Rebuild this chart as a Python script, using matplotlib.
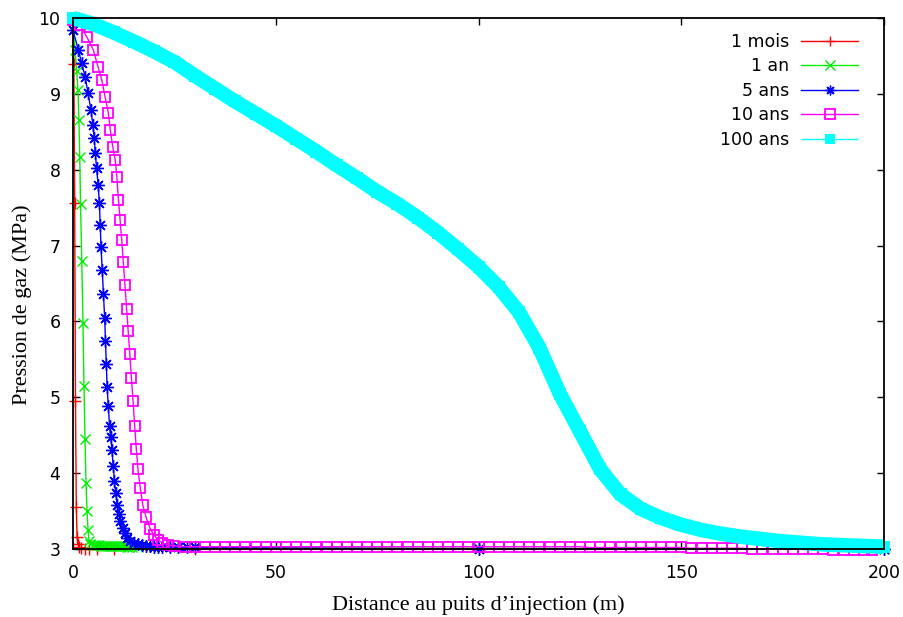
import matplotlib
matplotlib.use('Agg')
import matplotlib.pyplot as plt

# 1 mois
x_mois = [0.0, 0.2, 0.4, 0.6, 0.8, 1.0, 1.2, 1.5, 2.0, 3.0, 4.0, 6.0, 10, 30, 100, 200]
y_mois = [10.0, 9.40, 7.56, 4.95, 3.56, 3.16, 3.06, 3.03, 3.01, 3.0, 3.0, 3.0, 3.0, 3.0, 3.0, 3.0]

# 1 an
x_1an = [0.0, 0.5, 0.9, 1.2, 1.45, 1.65, 1.85, 2.15, 2.45, 2.7, 2.95, 3.2, 3.45, 3.7, 3.95, 4.3,
         4.8, 5.3, 5.8, 6.3, 6.8, 7.3, 7.8, 8.3, 8.8, 9.3, 9.8, 10.3, 10.8, 11.3, 11.8, 12.3, 12.8,
         13.3, 13.8, 14.5, 16, 20, 25, 30, 100, 200]
y_1an = [10.0, 9.58, 9.30, 9.05, 8.66, 8.17, 7.55, 6.80, 5.98, 5.15, 4.45, 3.87, 3.50, 3.25, 3.10, 3.06,
         3.05, 3.05, 3.05, 3.05, 3.04, 3.04, 3.04, 3.04, 3.04, 3.04, 3.04, 3.04, 3.04, 3.04, 3.04, 3.04, 3.04,
         3.03, 3.03, 3.03, 3.03, 3.03, 3.03, 3.02, 3.01, 3.0]

# 5 ans
x_5ans = [0.0, 1.3, 2.1, 3.0, 3.7, 4.4, 4.9, 5.2, 5.5, 5.8, 6.2, 6.5, 6.7, 6.9, 7.2, 7.5, 7.8, 8.0,
          8.2, 8.4, 8.7, 9.0, 9.3, 9.6, 9.9, 10.2, 10.5, 10.9, 11.3, 11.7, 12.2, 12.7, 13.3, 14.0, 15.0,
          16.0, 17.0, 18.0, 19.0, 20.0, 21.0, 22.0, 24, 26, 28, 30, 100, 200]
y_5ans = [9.84, 9.58, 9.41, 9.22, 9.01, 8.79, 8.59, 8.42, 8.22, 8.02, 7.80, 7.56, 7.27, 6.98, 6.68, 6.36, 6.04, 5.74,
          5.44, 5.14, 4.88, 4.62, 4.47, 4.30, 4.10, 3.90, 3.74, 3.58, 3.46, 3.37, 3.28, 3.21, 3.15, 3.11, 3.08,
          3.06, 3.05, 3.04, 3.04, 3.03, 3.03, 3.03, 3.02, 3.02, 3.02, 3.02, 3.0, 3.0]

# 10 ans
x_10ans = [0.0, 1.7, 3.4, 5.0, 6.2, 7.1, 7.9, 8.7, 9.2, 9.8, 10.4, 10.8, 11.2, 11.6, 12.0, 12.4, 12.8,
           13.2, 13.6, 14.0, 14.4, 14.8, 15.2, 15.6, 16.0, 16.6, 17.2, 18.0, 19.0, 20.0, 21.0, 22.0, 23.5,
           25.0, 27.5, 30.0, 32.5, 35.0, 37.5, 40.0, 42.5, 45.0, 47.5, 50.0, 52.5, 55.0, 57.5, 60.0, 62.5,
           65.0, 67.5, 70.0, 72.5, 75.0, 77.5, 80.0, 82.5, 85.0, 87.5, 90.0, 92.5, 95.0, 97.5, 100.0,
           102.5, 105.0, 107.5, 110.0, 112.5, 115.0, 117.5, 120.0, 122.5, 125.0, 127.5, 130.0, 132.5,
           135.0, 137.5, 140.0, 142.5, 145.0, 147.5, 150.0, 152.5, 155.0, 157.5, 160.0, 162.5, 165.0,
           167.5, 170.0, 172.5, 175.0, 177.5, 180.0, 182.5, 185.0, 187.5, 190.0, 192.5, 195.0, 197.0]
y_10ans = [9.97, 9.91, 9.75, 9.58, 9.35, 9.18, 8.96, 8.75, 8.52, 8.30, 8.13, 7.91, 7.60, 7.34, 7.08, 6.78, 6.48,
           6.17, 5.87, 5.57, 5.25, 4.95, 4.62, 4.32, 4.05, 3.80, 3.58, 3.42, 3.27, 3.18, 3.12, 3.08, 3.05,
           3.04, 3.03, 3.03, 3.03, 3.03, 3.03, 3.03, 3.03, 3.03, 3.03, 3.03, 3.03, 3.03, 3.03, 3.03, 3.03,
           3.03, 3.03, 3.03, 3.03, 3.03, 3.03, 3.03, 3.03, 3.03, 3.03, 3.03, 3.03, 3.03, 3.03, 3.03,
           3.03, 3.03, 3.03, 3.03, 3.03, 3.03, 3.03, 3.03, 3.03, 3.03, 3.02, 3.02, 3.02,
           3.02, 3.02, 3.02, 3.02, 3.02, 3.02, 3.02, 3.01, 3.01, 3.01, 3.01, 3.01, 3.01,
           3.0, 3.0, 3.0, 3.0, 3.0, 3.0, 3.0, 3.0, 2.99, 2.99, 2.99, 2.99, 2.99]

# 100 ans
x_100ans = [0, 5, 10, 15, 20, 25, 30, 35, 40, 45, 50, 55, 60, 65, 70, 75, 80, 85, 90, 95, 100,
            105, 110, 115, 120, 125, 130, 135, 140, 145, 150, 155, 160, 165, 170, 175, 180, 185, 190, 195, 200]
y_100ans = [10.0, 9.92, 9.81, 9.69, 9.56, 9.42, 9.24, 9.07, 8.90, 8.74, 8.58, 8.41, 8.24, 8.06, 7.89, 7.71,
            7.55, 7.37, 7.17, 6.95, 6.72, 6.45, 6.12, 5.65, 5.05, 4.55, 4.05, 3.72, 3.53, 3.41, 3.32,
            3.25, 3.20, 3.16, 3.13, 3.10, 3.08, 3.06, 3.05, 3.04, 3.03]

fig = plt.figure(figsize=(9.04, 6.17), dpi=100)
ax = fig.add_axes([0.0808, 0.1102, 0.8972, 0.8606])

ax.plot(x_mois, y_mois, color='#ff0000', lw=1, marker='+', ms=8, mew=1, label='1 mois', clip_on=False)
ax.plot(x_1an, y_1an, color='#00ee00', lw=1, marker='x', ms=7, mew=1, label='1 an', clip_on=False)
ax.plot(x_5ans, y_5ans, color='#0000ff', lw=1, marker=(8, 2, 0), ms=9, mew=1, label='5 ans', clip_on=False)
ax.plot(x_10ans, y_10ans, color='#ff00ff', lw=1, marker='s', ms=7, mew=1.3, mfc='none',
        label='10 ans', clip_on=False)
ax.plot(x_100ans, y_100ans, color='#00ffff', lw=10.5, marker='s', ms=8.5, mew=0, label='100 ans',
        clip_on=False, solid_joinstyle='round', solid_capstyle='butt')

ax.set_xlim(0, 200)
ax.set_ylim(3, 10)
ax.set_xticks([0, 50, 100, 150, 200])
ax.set_yticks([3, 4, 5, 6, 7, 8, 9, 10])
ax.tick_params(direction='in', length=5, width=1, top=True, right=True, labelsize=12.5, pad=11, colors='black')
ax.tick_params(axis='y', pad=9)
for s in ax.spines.values():
    s.set_linewidth(1.3)
    s.set_zorder(5)

ax.set_xlabel('Distance au puits d’injection (m)', family='Liberation Serif', fontsize=16)
ax.set_ylabel('Pression de gaz (MPa)', family='Liberation Serif', fontsize=16)
ax.xaxis.set_label_coords(0.5, -0.087)
ax.yaxis.set_label_coords(-0.05, 0.461)

leg = ax.legend(loc='upper right', bbox_to_anchor=(0.968, 0.972), frameon=False, markerfirst=False,
                fontsize=12.5, handlelength=3.3, handletextpad=0.65, labelspacing=0.37,
                borderpad=0, borderaxespad=0)
for h in leg.legend_handles:
    h.set_linewidth(1)
    h.set_markersize(7)

plt.savefig('out.png', dpi=100)
